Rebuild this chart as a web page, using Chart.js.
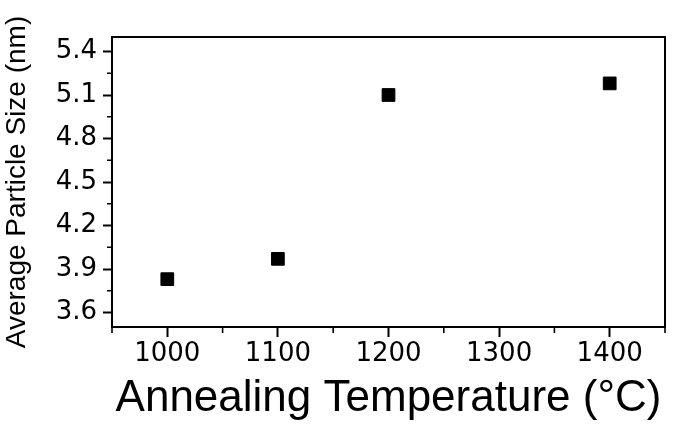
<!DOCTYPE html>
<html>
<head>
<meta charset="utf-8">
<script src="https://cdn.jsdelivr.net/npm/chart.js@4"></script>
<style>
  html, body { margin: 0; padding: 0; background: #fff; }
  #wrap { width: 675px; height: 431px; }
</style>
</head>
<body>
<div id="wrap"><canvas id="sizeChart"></canvas></div>
<script>
// data
const temperatures = [1000, 1100, 1200, 1400];
const particleSizes = [3.83, 3.97, 5.10, 5.18];

const xTicks = [1000, 1100, 1200, 1300, 1400];
const xMinorTicks = [950, 1050, 1150, 1250, 1350, 1450];
const yTicks = [3.6, 3.9, 4.2, 4.5, 4.8, 5.1, 5.4];
const yMinorTicks = [3.75, 4.05, 4.35, 4.65, 4.95, 5.25];

const xTitle = 'Annealing Temperature (°C)';
const yTitle = 'Average Particle Size (nm)';

const tickFont = { family: '"DejaVu Sans", sans-serif', size: 26 };

// frame box + short minor ticks, positioned through the chart's scales
const framePlugin = {
    id: 'frame',
    afterDraw(chart) {
        const { ctx, chartArea: a, scales: { x, y } } = chart;
        ctx.save();
        ctx.strokeStyle = '#000';
        ctx.lineWidth = 2;
        ctx.strokeRect(a.left, a.top, a.right - a.left, a.bottom - a.top);
        ctx.lineWidth = 1.6;
        ctx.beginPath();
        xMinorTicks.forEach((v) => {
            const px = x.getPixelForValue(v);
            ctx.moveTo(px, a.bottom);
            ctx.lineTo(px, a.bottom + 6);
        });
        yMinorTicks.forEach((v) => {
            const py = y.getPixelForValue(v);
            ctx.moveTo(a.left, py);
            ctx.lineTo(a.left - 5, py);
        });
        ctx.stroke();
        ctx.restore();
    },
};

new Chart(document.getElementById('sizeChart'), {
    type: 'scatter',
    data: {
        datasets: [{
            data: temperatures.map((t, i) => ({ x: t, y: particleSizes[i] })),
            backgroundColor: '#000',
            borderColor: '#000',
            pointStyle: 'rect',
            pointRadius: 9,
            pointHoverRadius: 9,
        }],
    },
    options: {
        responsive: true,
        maintainAspectRatio: false,
        animation: false,
        layout: { padding: { top: 37, right: 10, left: 0, bottom: 0 } },
        plugins: { legend: { display: false }, tooltip: { enabled: false } },
        scales: {
            x: {
                type: 'linear',
                min: 950,
                max: 1450,
                afterBuildTicks: (scale) => { scale.ticks = xTicks.map((v) => ({ value: v })); },
                afterFit: (scale) => { scale.height = 104; },
                border: { display: false },
                grid: { drawOnChartArea: false, tickLength: 10, tickColor: '#000', tickWidth: 2 },
                ticks: { color: '#000', font: tickFont, padding: 2, maxRotation: 0, callback: (v) => String(v) },
                title: {
                    display: true,
                    text: xTitle,
                    color: '#000',
                    font: { family: '"Liberation Sans", Arial, sans-serif', size: 44 },
                    padding: { top: 0, bottom: 6 },
                },
            },
            y: {
                min: 3.5,
                max: 5.5,
                afterBuildTicks: (scale) => { scale.ticks = yTicks.map((v) => ({ value: v })); },
                afterFit: (scale) => { scale.width = 112; },
                border: { display: false },
                grid: { drawOnChartArea: false, tickLength: 9, tickColor: '#000', tickWidth: 2 },
                ticks: { color: '#000', font: tickFont, padding: 6, callback: (v) => v.toFixed(1) },
                title: {
                    display: true,
                    text: yTitle,
                    color: '#000',
                    font: { family: '"Liberation Sans", Arial, sans-serif', size: 28 },
                    padding: { top: 0, bottom: 0 },
                },
            },
        },
    },
    plugins: [framePlugin],
});
</script>
</body>
</html>
